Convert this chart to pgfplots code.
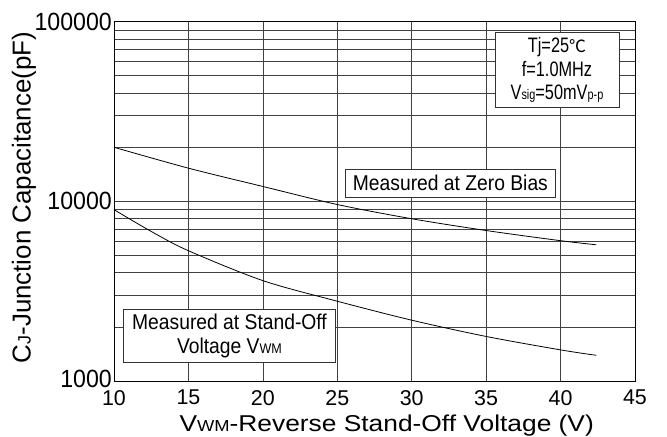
\documentclass[border=0pt]{standalone}
\usepackage{fontspec}
\setmainfont{Liberation Sans}
\newfontfamily\ytickfont{Liberation Sans}[FakeStretch=0.93]
\newfontfamily\boxfont{Liberation Sans}[FakeStretch=0.9]
\newfontfamily\condfont{Liberation Sans}[FakeStretch=0.78]
\newfontfamily\widefont{Liberation Sans}[FakeStretch=1.15]
\newfontfamily\cjk{Noto Sans CJK SC}
\usepackage{pgfplots}
\pgfplotsset{compat=1.18}
\begin{document}
\begin{tikzpicture}
\begin{axis}[
  scale only axis, width=521bp, height=359.3bp,
  xmin=10, xmax=45, ymode=log, ymin=1000, ymax=100000,
  xtick={10,15,20,25,30,35,40,45},
  ytick={1000,10000,100000}, yticklabels={\raisebox{5bp}{1000},10000,100000},
  minor ytick={2000,3000,4000,5000,6000,7000,8000,9000,20000,30000,40000,50000,60000,70000,80000,90000},
  xmajorgrids, ymajorgrids, yminorgrids,
  major grid style={black!75, line width=0.7bp},
  minor grid style={black!75, line width=0.7bp},
  major tick length=0pt, minor tick length=0pt,
  axis line style={black, line width=0.8bp},
  /pgf/number format/assume math mode=true,
  xticklabel style={font=\fontsize{21.5}{21.5}\selectfont, anchor=north, inner sep=0pt, yshift=-9bp},
  yticklabel style={font=\ytickfont\fontsize{25}{25}\selectfont, anchor=east, inner sep=0pt, xshift=-2bp},
  xlabel={V{\fontsize{16}{16}\selectfont WM}-Reverse Stand-Off Voltage (V)},
  xlabel style={at={(axis description cs:0.5234,-0.1411)}, anchor=base, inner sep=0pt, font=\widefont\fontsize{23}{23}\selectfont},
  ylabel={C{\fontsize{18}{18}\selectfont J}-Junction Capacitance(pF)},
  ylabel style={at={(axis description cs:-0.1727,0.5107)}, anchor=center, inner sep=0pt, font=\fontsize{26}{26}\selectfont},
]
\addplot[black, line width=0.8bp, smooth] coordinates {
  (10,20000) (15,15300) (20,12100) (25,9600) (30,8000) (35,6880) (40,6040) (42.4,5730)
};
\addplot[black, line width=0.8bp, smooth] coordinates {
  (10,8990) (12.5,6800) (15,5310) (20,3620) (25,2780) (30,2180) (35,1770) (40,1490) (42.4,1390)
};
\node[draw=black!80, line width=0.8bp, fill=white, inner sep=0pt, minimum width=210bp, minimum height=28bp,
  font=\boxfont\fontsize{21.5}{23.3}\selectfont] at (axis cs:32.6,12660) {Measured at Zero Bias};
\node[draw=black!80, line width=0.8bp, fill=white, inner sep=0pt, minimum width=212bp, minimum height=52.7bp,
  align=center, font=\boxfont\fontsize{21.5}{23.3}\selectfont] at (axis cs:17.76,1780)
  {Measured at Stand-Off\\Voltage V{\fontsize{14}{14}\selectfont WM}};
\node[draw=black!80, line width=0.8bp, fill=white, inner sep=0pt, minimum width=124bp, minimum height=75bp,
  align=center, font=\condfont\fontsize{21}{23.5}\selectfont] at (axis cs:39.76,53900)
  {Tj=25{\cjk\fontsize{17}{17}\selectfont ℃}\\f=1.0MHz\\V{\fontsize{14}{14}\selectfont sig}=50mV{\fontsize{14}{14}\selectfont p-p}};
\end{axis}
\pgfresetboundingbox
\path (current axis.south west) ++(-114bp,-56bp) coordinate (bl);
\path[use as bounding box] (bl) rectangle ++(667bp,437bp);
\end{tikzpicture}
\end{document}
